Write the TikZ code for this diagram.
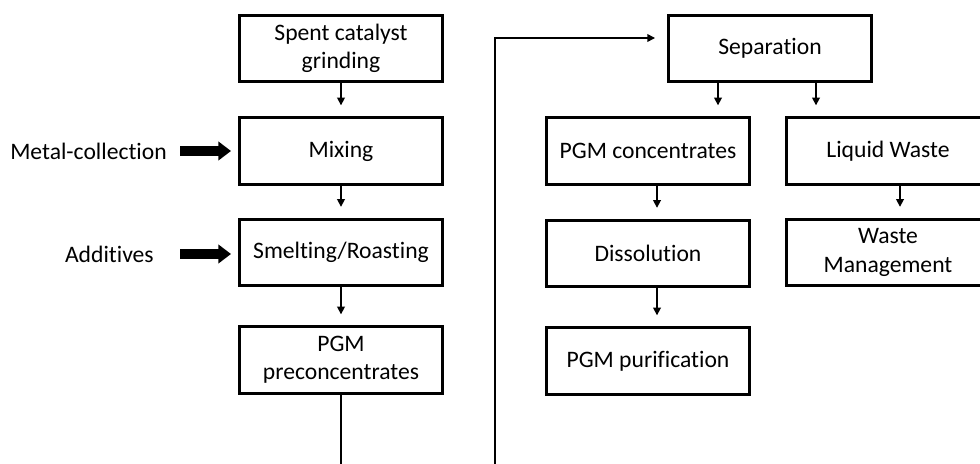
\documentclass[tikz,border=0pt]{standalone}
\usepackage{fontspec}
\setmainfont{Carlito}[Ligatures={NoCommon,NoContextual}]
\usetikzlibrary{arrows.meta}
\begin{document}
\begin{tikzpicture}[x=0.25mm,y=-0.25mm,
  box/.style={draw,line width=2.1pt,rectangle,minimum width=50.75mm,minimum height=16.6mm,align=center,inner sep=0pt,font=\fontsize{16.8}{20}\selectfont},
  lbl/.style={inner sep=0pt,font=\fontsize{16.8}{20}\selectfont},
  thin/.style={line width=1.1pt,-{Triangle[length=5.5pt,width=5.5pt]}},
  fat/.style={line width=7pt,-{Triangle[length=9pt,width=13pt]}}]
\useasboundingbox (0,0) rectangle (980,464);
\clip (0,0) rectangle (980,464);
\fill[white] (0,0) rectangle (980,464);
% left column
\node[box] (grind) at (341,48.5) {Spent catalyst\\grinding};
\node[box] (mix) at (341,151) {Mixing};
\node[box] (smelt) at (341,252.5) {Smelting/Roasting};
\node[box] (pre) at (341,360) {PGM\\preconcentrates};
% right part
\node[box] (sep) at (770,48.5) {Separation};
\node[box] (conc) at (648,151) {PGM concentrates};
\node[box] (liq) at (888,151) {Liquid Waste};
\node[box] (diss) at (648,253.5) {Dissolution};
\node[box] (pur) at (648,361) {PGM purification};
\node[box] (wm) at (888,252.5) {Waste\\Management};
% labels
\node[lbl,anchor=east] (metal) at (167,151) {Metal-collection};
\node[lbl,anchor=east] (add) at (154,254) {Additives};
% thick arrows
\draw[fat,shorten >=1.75mm] ([xshift=3.25mm]metal.east) -- (mix.west |- metal.east);
\draw[fat,shorten >=1.75mm] ([xshift=6.5mm]add.east) -- (smelt.west |- add.east);
% thin arrows
\draw[thin,shorten >=2.75mm] (grind.south) -- (mix.north);
\draw[thin,shorten >=2.75mm] (mix.south) -- (smelt.north);
\draw[thin,shorten >=2.75mm] (smelt.south) -- (pre.north);
\draw[thin,shorten >=2.75mm] (sep.south -| 718,0) -- (conc.north -| 718,0);
\draw[thin,shorten >=2.75mm] (sep.south -| 816,0) -- (liq.north -| 816,0);
\draw[thin,shorten >=2.75mm] (conc.south -| 657,0) -- (diss.north -| 657,0);
\draw[thin,shorten >=2.75mm] (diss.south -| 657,0) -- (pur.north -| 657,0);
\draw[thin,shorten >=2.75mm] (liq.south -| 900,0) -- (wm.north -| 900,0);
% return connector
\coordinate (lowL) at (341,480);
\coordinate (lowR) at (495,480);
\coordinate (upR) at (495,38);
\draw[thin,shorten >=3mm] (pre.south) -- (lowL) -- (lowR) -- (upR) -- (sep.west |- upR);
\end{tikzpicture}
\end{document}
